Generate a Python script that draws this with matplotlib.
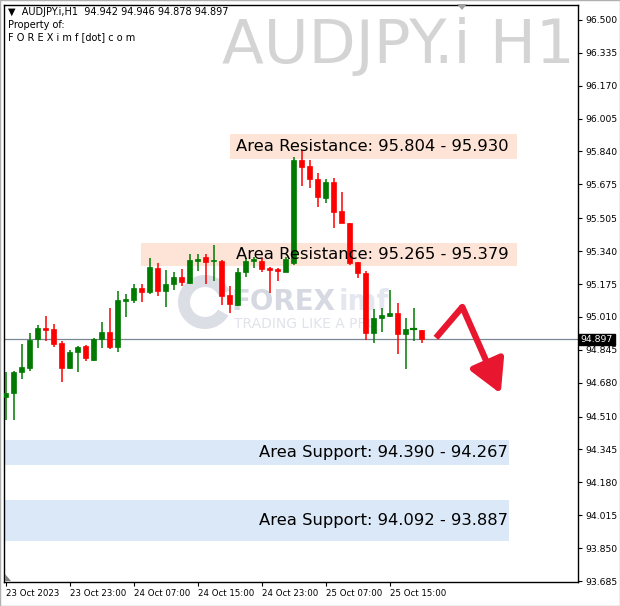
import matplotlib
matplotlib.use("Agg")
import matplotlib.pyplot as plt
import matplotlib.transforms as mtransforms
from matplotlib.patches import Rectangle, Polygon, Wedge

# ---------------- data ----------------
opens = [94.608, 94.628, 94.734, 94.754, 94.899, 94.955, 94.950, 94.879, 94.754, 94.834,
         94.864, 94.794, 94.899, 94.935, 94.859, 95.090, 95.095, 95.155, 95.135, 95.256,
         95.140, 95.175, 95.211, 95.180, 95.291, 95.311, 95.293, 95.291, 95.120, 95.070,
         95.236, 95.291, 95.291, 95.256, 95.251, 95.236, 95.281, 95.798, 95.767, 95.702,
         95.607, 95.687, 95.542, 95.481, 95.286, 95.231, 94.930, 95.005, 95.015, 95.030,
         94.925, 94.947, 94.942]
highs = [94.734, 94.739, 94.874, 94.930, 94.970, 95.015, 94.975, 94.889, 94.844, 94.864,
         94.869, 94.904, 94.985, 95.055, 95.140, 95.125, 95.175, 95.175, 95.306, 95.281,
         95.246, 95.236, 95.251, 95.326, 95.326, 95.326, 95.371, 95.296, 95.165, 95.256,
         95.306, 95.311, 95.306, 95.261, 95.256, 95.311, 95.813, 95.848, 95.798, 95.732,
         95.702, 95.707, 95.637, 95.481, 95.286, 95.241, 95.050, 95.055, 95.145, 95.080,
         95.005, 95.055, 94.946]
lows = [94.493, 94.493, 94.699, 94.739, 94.854, 94.889, 94.859, 94.684, 94.749, 94.734,
        94.789, 94.789, 94.854, 94.849, 94.834, 95.010, 95.080, 95.085, 95.125, 95.115,
        95.060, 95.145, 95.165, 95.175, 95.241, 95.175, 95.190, 95.070, 95.030, 95.065,
        95.211, 95.256, 95.236, 95.130, 95.190, 95.236, 95.271, 95.667, 95.657, 95.562,
        95.582, 95.456, 95.481, 95.271, 95.206, 94.894, 94.879, 94.935, 95.010, 94.824,
        94.749, 94.889, 94.878]
closes = [94.628, 94.734, 94.759, 94.894, 94.955, 94.945, 94.874, 94.754, 94.834, 94.859,
          94.804, 94.899, 94.935, 94.859, 95.095, 95.100, 95.155, 95.135, 95.261, 95.140,
          95.175, 95.211, 95.185, 95.296, 95.301, 95.286, 95.298, 95.115, 95.075, 95.236,
          95.291, 95.301, 95.251, 95.246, 95.241, 95.301, 95.798, 95.762, 95.702, 95.612,
          95.687, 95.537, 95.481, 95.281, 95.231, 94.930, 95.005, 95.020, 95.030, 94.925,
          94.950, 94.950, 94.897]

time_labels = ["23 Oct 2023", "23 Oct 23:00", "24 Oct 07:00", "24 Oct 15:00",
               "24 Oct 23:00", "25 Oct 07:00", "25 Oct 15:00"]
time_label_bars = [0, 8, 16, 24, 32, 40, 48]

price_ticks = [96.500, 96.335, 96.170, 96.005, 95.840, 95.675, 95.505, 95.340, 95.175,
               95.010, 94.845, 94.680, 94.510, 94.345, 94.180, 94.015, 93.850, 93.685]
price_tick_labels = ["96.500", "96.335", "96.170", "96.005", "95.840", "95.675", "95.505",
                     "95.340", "95.175", "95.010", "94.845", "94.680", "94.510", "94.345",
                     "94.180", "94.015", "93.850", "93.685"]

last_price = 94.897
header_ohlc = ["94.942", "94.946", "94.878", "94.897"]

resistance_zones = [(95.804, 95.930), (95.265, 95.379)]
support_zones = [(94.390, 94.267), (94.092, 93.887)]

arrow_prices = [94.905, 95.060, 94.625]

# ---------------- figure ----------------
W, H = 620, 606
fig = plt.figure(figsize=(W / 100, H / 100), dpi=100)
fig.patch.set_facecolor("white")
ax = fig.add_axes([4 / W, 1 - 582 / H, (578 - 4) / W, (582 - 5) / H])
ax.set_facecolor("white")

ax.set_xlim(-0.19, 71.56)
ax.set_ylim(93.680, 96.575)

GREEN = "#007a00"
RED = "#ff0000"
RES_COL = "#fde4d6"
SUP_COL = "#dae8f7"

# zones
res_x = [(28.0, 63.9), (16.9, 63.9)]
for (lo_hi, (x0, x1)) in zip(resistance_zones, res_x):
    lo, hi = min(lo_hi), max(lo_hi)
    ax.add_patch(Rectangle((x0, lo), x1 - x0, hi - lo, facecolor=RES_COL,
                           edgecolor="none", zorder=1))
for lo_hi in support_zones:
    lo, hi = min(lo_hi), max(lo_hi)
    ax.add_patch(Rectangle((-0.19, lo), 62.9 + 0.19, hi - lo, facecolor=SUP_COL,
                           edgecolor="none", zorder=1))

# watermark logo (drawn in pixel space so it stays round)
pix = mtransforms.IdentityTransform()
logo_ring = Wedge((205, H - 302), 27, 25, 330, width=12, facecolor="#dcdee6",
                  edgecolor="none", zorder=1.5, transform=pix)
ax.add_patch(logo_ring)
ax.text(28.3, 95.085, "FOREX", fontsize=20, fontweight="bold", color="#d6d9e2",
        ha="left", va="center", zorder=1.5)
ax.text(41.6, 95.085, "imf", fontsize=20, fontweight="bold", color="#e4e7ef",
        ha="left", va="center", zorder=1.5)
ax.text(28.5, 94.975, "TRADING LIKE A PRO", fontsize=10, color="#e0e3ea",
        ha="left", va="center", zorder=1.5)

# big watermark symbol
fig.text(575 / W, 1 - 46 / H, "AUDJPY.i H1", fontsize=44, color="#d4d4d4",
         ha="right", va="center")

# current price line
ax.axhline(last_price, color="#7a8795", lw=0.9, zorder=2)

# candles
body_w = 0.62
for i, (o, h, l, c) in enumerate(zip(opens, highs, lows, closes)):
    col = GREEN if c >= o else RED
    ax.plot([i, i], [l, h], color=col, lw=1.1, zorder=3, solid_capstyle="butt")
    b0, b1 = min(o, c), max(o, c)
    if b1 - b0 < 0.004:
        ax.plot([i - body_w / 2, i + body_w / 2], [c, c], color=col, lw=1.6, zorder=3)
    else:
        ax.add_patch(Rectangle((i - body_w / 2, b0), body_w, b1 - b0, facecolor=col,
                               edgecolor=col, lw=0.5, zorder=3))

# zone texts
txt_x = 62.85
for lo_hi in resistance_zones:
    mid = (lo_hi[0] + lo_hi[1]) / 2
    ax.text(txt_x, mid, f"Area Resistance: {lo_hi[0]:.3f} - {lo_hi[1]:.3f}",
            fontsize=11.8, color="black", ha="right", va="center", zorder=4)
for lo_hi in support_zones:
    mid = (lo_hi[0] + lo_hi[1]) / 2
    ax.text(txt_x, mid, f"Area Support: {lo_hi[0]:.3f} - {lo_hi[1]:.3f}",
            fontsize=11.8, color="black", ha="right", va="center", zorder=4)

# red arrow
ARROW = "#e8162f"
ax.plot([53.8, 57.1], [arrow_prices[0], arrow_prices[1]], color=ARROW, lw=4.5,
        solid_capstyle="butt", zorder=5)
ax.annotate("", xy=(61.9, arrow_prices[2]), xytext=(57.1, arrow_prices[1]),
            arrowprops=dict(arrowstyle="-|>,head_length=0.9,head_width=0.5",
                            color=ARROW, lw=4.5, shrinkA=0, shrinkB=0,
                            mutation_scale=22), zorder=5)

# axes styling
for s in ax.spines.values():
    s.set_color("black")
    s.set_linewidth(1.0)
ax.yaxis.tick_right()
ax.set_yticks(price_ticks)
ax.set_yticklabels(price_tick_labels)
ax.tick_params(axis="y", direction="out", length=3, width=0.8, pad=2,
               labelsize=6.7, colors="black")
ax.set_xticks(time_label_bars)
ax.set_xticklabels(time_labels, ha="left")
ax.tick_params(axis="x", direction="out", length=3, width=0.8, pad=2,
               labelsize=6.2, colors="black")

# current price label box
trans = mtransforms.blended_transform_factory(ax.transAxes, ax.transData)
ax.text(1.005, last_price, f"{last_price:.3f}", transform=trans, fontsize=6.7,
        color="white", ha="left", va="center", zorder=6, clip_on=False,
        bbox=dict(boxstyle="square,pad=0.15", facecolor="black", edgecolor="black"))

# header
fig.text(8 / W, 1 - 12 / H, "\u25bc  AUDJPY.i,H1  " + " ".join(header_ohlc),
         fontsize=7, color="black", ha="left", va="center")
fig.text(8 / W, 1 - 25 / H, "Property of:", fontsize=7, color="black",
         ha="left", va="center")
fig.text(8 / W, 1 - 37 / H, "F O R E X i m f [dot] c o m", fontsize=7,
         color="black", ha="left", va="center")

# chart-shift markers
fig.patches.append(Polygon([[457 / W, 1 - 4 / H], [467 / W, 1 - 4 / H], [462 / W, 1 - 10 / H]],
                           closed=True, transform=fig.transFigure, facecolor="#a0a0a0",
                           edgecolor="none"))
fig.patches.append(Polygon([[5 / W, 1 - 574 / H], [5 / W, 1 - 581 / H], [11 / W, 1 - 581 / H]],
                           closed=True, transform=fig.transFigure, facecolor="#808080",
                           edgecolor="none"))

# outer border
fig.patches.append(Rectangle((0, 0), 1, 1, transform=fig.transFigure, fill=False,
                             edgecolor="#b0b0b0", lw=1))

fig.savefig("out.png", dpi=100)
